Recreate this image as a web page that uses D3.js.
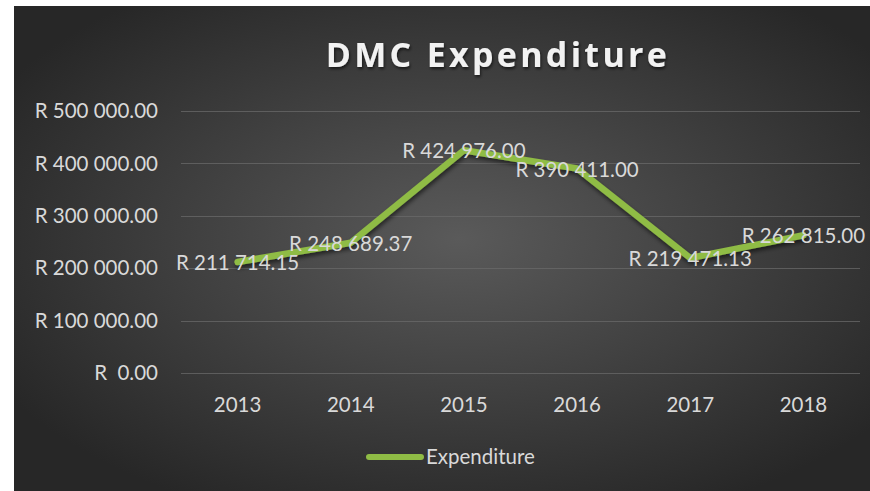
<!DOCTYPE html>
<html>
<head>
<meta charset="utf-8">
<script src="https://cdn.jsdelivr.net/npm/d3@7"></script>
<style>
  html, body { margin: 0; padding: 0; background: #fff; }
  svg { display: block; }
</style>
</head>
<body>
<div id="chart"></div>
<script>
// data ////////////////////////////////////////////////////////////////
const years = ['2013', '2014', '2015', '2016', '2017', '2018'];
const expenditure = [211714.15, 248689.37, 424976.00, 390411.00, 219471.13, 262815.00];
const yTicks = [0, 100000, 200000, 300000, 400000, 500000];
const seriesName = 'Expenditure';
const chartTitle = 'DMC Expenditure';

const width = 870, height = 491;
const margin = { top: 111, right: 10, bottom: 118, left: 181 };

// money format: "R 211 714.15"
const fmt = v => {
  const [int, dec] = v.toFixed(2).split('.');
  const grouped = int.replace(/\B(?=(\d{3})+(?!\d))/g, ' ');
  return v === 0 ? 'R  0.00' : `R ${grouped}.${dec}`;
};

const svg = d3.select('#chart').append('svg')
  .attr('width', width)
  .attr('height', height)
  .attr('viewBox', [0, 0, width, height]);

const defs = svg.append('defs');

const grad = defs.append('radialGradient')
  .attr('id', 'bg')
  .attr('cx', '52%').attr('cy', '48%').attr('r', '62%');
grad.append('stop').attr('offset', '0%').attr('stop-color', '#5a5a5a');
grad.append('stop').attr('offset', '100%').attr('stop-color', '#272727');

const shadow = defs.append('filter').attr('id', 'shadow')
  .attr('x', '-10%').attr('y', '-20%').attr('width', '120%').attr('height', '150%');
shadow.append('feDropShadow')
  .attr('dx', 1).attr('dy', 3).attr('stdDeviation', 2)
  .attr('flood-color', '#000').attr('flood-opacity', 0.55);

const tshadow = defs.append('filter').attr('id', 'tshadow')
  .attr('x', '-10%').attr('y', '-30%').attr('width', '120%').attr('height', '160%');
tshadow.append('feDropShadow')
  .attr('dx', 1).attr('dy', 2).attr('stdDeviation', 1.5)
  .attr('flood-color', '#000').attr('flood-opacity', 0.6);

// frame
svg.append('rect')
  .attr('x', 14).attr('y', 6)
  .attr('width', width - 14).attr('height', height - 6)
  .attr('fill', 'url(#bg)');

// scales
const x = d3.scaleBand()
  .domain(years)
  .range([margin.left, width - margin.right]);

const y = d3.scaleLinear()
  .domain([0, 500000])
  .range([height - margin.bottom, margin.top]);

// gridlines
svg.append('g').attr('id', 'grid')
  .selectAll('line')
  .data(yTicks)
  .join('line')
  .attr('x1', margin.left)
  .attr('x2', width - margin.right)
  .attr('y1', d => Math.round(y(d)) + 0.5)
  .attr('y2', d => Math.round(y(d)) + 0.5)
  .attr('stroke', '#6a6a6a')
  .attr('stroke-opacity', 0.75)
  .attr('stroke-width', 1);

const labelFont = 'Lato, "Open Sans", sans-serif';
const fs = 20.5;

// y axis labels
svg.append('g').attr('id', 'y-labels')
  .selectAll('text')
  .data(yTicks)
  .join('text')
  .attr('x', 158)
  .attr('y', d => y(d))
  .attr('dy', '0.35em')
  .attr('text-anchor', 'end')
  .attr('font-family', labelFont)
  .attr('font-size', fs)
  .attr('fill', '#d9d9d9')
  .style('white-space', 'pre')
  .text(d => fmt(d));

// x axis labels
svg.append('g').attr('id', 'x-labels')
  .selectAll('text')
  .data(years)
  .join('text')
  .attr('x', d => x(d) + x.bandwidth() / 2)
  .attr('y', 405)
  .attr('dy', '0.35em')
  .attr('text-anchor', 'middle')
  .attr('font-family', labelFont)
  .attr('font-size', fs)
  .attr('fill', '#d9d9d9')
  .text(d => d);

// line
const pts = years.map((yr, i) => ({ year: yr, value: expenditure[i] }));
const line = d3.line()
  .x(d => x(d.year) + x.bandwidth() / 2)
  .y(d => y(d.value));

svg.append('path')
  .datum(pts)
  .attr('d', line)
  .attr('fill', 'none')
  .attr('stroke', '#8fbc45')
  .attr('stroke-width', 6.5)
  .attr('stroke-linecap', 'round')
  .attr('stroke-linejoin', 'round')
  .attr('filter', 'url(#shadow)');

// data labels
svg.append('g').attr('id', 'data-labels')
  .selectAll('text')
  .data(pts)
  .join('text')
  .attr('x', d => x(d.year) + x.bandwidth() / 2)
  .attr('y', d => y(d.value) + 1)
  .attr('dy', '0.35em')
  .attr('text-anchor', 'middle')
  .attr('font-family', labelFont)
  .attr('font-size', fs)
  .attr('fill', '#d9d9d9')
  .text(d => fmt(d.value));

// title
svg.append('text')
  .attr('x', 498)
  .attr('y', 67)
  .attr('text-anchor', 'middle')
  .attr('font-family', '"Open Sans", sans-serif')
  .attr('font-weight', 'bold')
  .attr('font-size', 34)
  .attr('letter-spacing', 3.3)
  .attr('fill', '#f2f2f2')
  .attr('filter', 'url(#tshadow)')
  .text(chartTitle);

// legend
const legend = svg.append('g').attr('id', 'legend');
legend.append('line')
  .attr('x1', 369).attr('x2', 421)
  .attr('y1', 457).attr('y2', 457)
  .attr('stroke', '#8fbc45')
  .attr('stroke-width', 6)
  .attr('stroke-linecap', 'round');
legend.append('text')
  .attr('x', 426)
  .attr('y', 457)
  .attr('dy', '0.35em')
  .attr('font-family', labelFont)
  .attr('font-size', fs)
  .attr('fill', '#d9d9d9')
  .text(seriesName);
</script>
</body>
</html>
